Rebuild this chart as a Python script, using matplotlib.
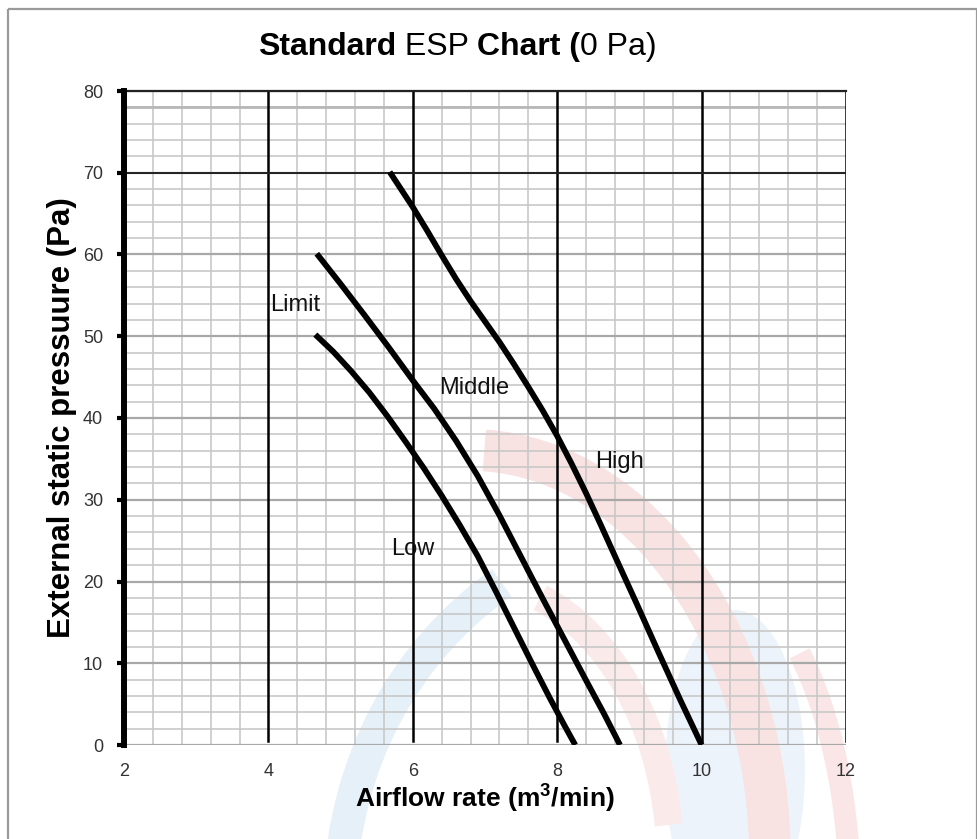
import matplotlib
matplotlib.use("Agg")
import matplotlib.pyplot as plt
from matplotlib.ticker import MultipleLocator
from matplotlib.patches import Rectangle, Arc, Ellipse

plt.rcParams['font.family'] = ['Liberation Sans', 'DejaVu Sans']
plt.rcParams['mathtext.fontset'] = 'custom'
plt.rcParams['mathtext.rm'] = 'Liberation Sans:bold'

# fan curves (airflow m3/min, ESP Pa)
low_x = [4.65, 4.9, 5.15, 5.4, 5.65, 5.9, 6.15, 6.4, 6.65, 6.9, 7.15, 7.4,
         7.65, 7.9, 8.1, 8.25]
low_y = [50.2, 48.1, 45.7, 43.1, 40.2, 37.1, 33.9, 30.5, 26.9, 23.1, 18.8, 14.4,
         10.0, 5.7, 2.4, 0.0]

mid_x = [4.67, 5.0, 5.33, 5.67, 6.0, 6.3, 6.6, 6.9, 7.2, 7.5, 7.8, 8.1, 8.4,
         8.65, 8.87]
mid_y = [60.1, 56.4, 52.6, 48.6, 44.6, 41.1, 37.2, 32.9, 28.1, 23.0, 17.9, 12.9,
         7.9, 3.8, 0.0]

high_x = [5.68, 6.0, 6.2, 6.4, 6.6, 6.8, 7.0, 7.2, 7.4, 7.6, 7.8, 8.0, 8.2,
          8.4, 8.6, 8.8, 9.1, 9.4, 9.7, 10.0]
high_y = [70.1, 65.8, 62.9, 59.9, 57.0, 54.3, 51.8, 49.3, 46.6, 43.8, 40.9, 37.8,
          34.4, 30.8, 27.0, 23.1, 17.3, 11.4, 5.6, 0.0]

curve_labels = ['Limit', 'Middle', 'High', 'Low']
label_x = [4.03, 6.37, 8.52, 5.7]
label_y = [53.8, 43.7, 34.6, 24.0]

x_ticks = [2, 4, 6, 8, 10, 12]
y_ticks = [0, 10, 20, 30, 40, 50, 60, 70, 80]

W, H = 978, 839
fig = plt.figure(figsize=(W / 100, H / 100), dpi=100)

# faint logo watermark behind the grid (pixel space, y down)
bg = fig.add_axes([0, 0, 1, 1], zorder=0)
bg.set_xlim(0, W)
bg.set_ylim(H, 0)
bg.axis('off')
bg.add_patch(Ellipse((735, 770), 140, 320, color='#edf3fa', lw=0))
bg.add_patch(Arc((470, 860), 600, 820, theta1=272, theta2=360, lw=30,
                 color='#f9e2e2'))
bg.add_patch(Arc((470, 860), 400, 560, theta1=285, theta2=350, lw=20,
                 color='#fbeaea'))
bg.add_patch(Arc((700, 900), 720, 760, theta1=182, theta2=238, lw=24,
                 color='#e6f0f9'))
bg.add_patch(Arc((700, 900), 300, 660, theta1=292, theta2=358, lw=16,
                 color='#fae6e6'))
bg.add_patch(Rectangle((8, 9), 969, 860, fill=False, edgecolor='#9a9a9a',
                       linewidth=1.6))

ax = fig.add_axes([124 / W, 1 - 745 / H, (846 - 124) / W, (745 - 91) / H],
                  zorder=1)
ax.patch.set_alpha(0)
ax.set_xlim(2, 12)
ax.set_ylim(0, 80)

ax.xaxis.set_minor_locator(MultipleLocator(0.4))
ax.yaxis.set_minor_locator(MultipleLocator(2))
ax.set_xticks(x_ticks)
ax.set_yticks(y_ticks)

ax.grid(which='minor', color='#c8c8c8', linewidth=1.2)
ax.yaxis.grid(which='major', color='#a8a8a8', linewidth=1.6)
ax.set_axisbelow(True)
for xv in x_ticks[1:]:
    ax.axvline(xv, ymin=0.006, color='black', linewidth=1.8, zorder=2)
ax.axhline(78, color='#b8b8b8', linewidth=2.0, zorder=1)
ax.axhline(70, color='#222222', linewidth=1.4, zorder=2)
ax.axhline(80, color='#222222', linewidth=1.6, zorder=2, clip_on=False)

for s in ['top', 'right', 'bottom']:
    ax.spines[s].set_visible(False)
ax.spines['left'].set_linewidth(4.3)
ax.spines['left'].set_color('black')

ax.tick_params(axis='x', which='both', length=0, pad=13, labelsize=13,
               labelcolor='#333333')
ax.tick_params(axis='y', which='major', length=5, width=3, color='black',
               pad=10, labelsize=13, labelcolor='#333333')
ax.tick_params(axis='y', which='minor', length=0)

for xs, ys in [(low_x, low_y), (mid_x, mid_y), (high_x, high_y)]:
    ax.plot(xs, ys, color='black', linewidth=4.2, solid_capstyle='butt',
            solid_joinstyle='round', zorder=5)

for t, lx, ly in zip(curve_labels, label_x, label_y):
    ax.text(lx, ly, t, fontsize=17, color='#111111', va='center', ha='left',
            zorder=6)

ax.set_ylabel('External static pressuure (Pa)', fontsize=22.5,
              fontweight='bold', labelpad=4)
ax.set_xlabel('Airflow rate (m$^3$/min)', fontsize=19, fontweight='bold',
              labelpad=1)

# title with mixed weights
t1 = fig.text(258 / W, 1 - 62 / H, 'Standard', fontsize=23, fontweight='bold',
              ha='left', va='bottom')
t2 = ax.annotate(' ESP ', xy=(1, 0), xycoords=t1, fontsize=23,
                 ha='left', va='bottom', annotation_clip=False)
t3 = ax.annotate('Chart (', xy=(1, 0), xycoords=t2, fontsize=23,
                 fontweight='bold', ha='left', va='bottom', annotation_clip=False)
t4 = ax.annotate('0 Pa)', xy=(1, 0), xycoords=t3, fontsize=23,
                 ha='left', va='bottom', annotation_clip=False)

fig.savefig('out.png', dpi=100)
